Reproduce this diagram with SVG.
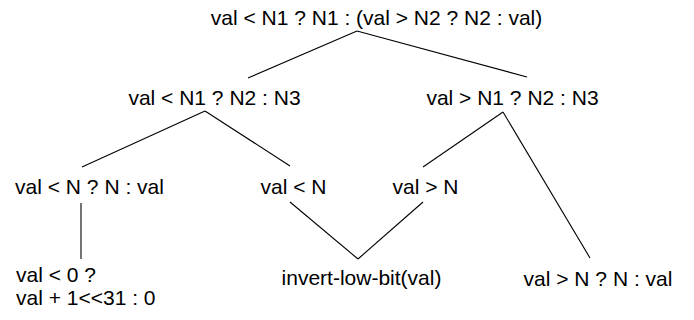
<svg xmlns="http://www.w3.org/2000/svg" width="694" height="320" viewBox="0 0 694 320">
<style>
text{font-family:"Liberation Sans",Arial,sans-serif;font-size:21px;fill:#000}
.m{text-anchor:middle}
.e line{stroke:#000;stroke-width:1.1}
</style>
<rect width="694" height="320" fill="#fff"/>
<g id="connectors" class="e">
<line x1="357" y1="31" x2="248" y2="78"/>
<line x1="357" y1="31" x2="527" y2="77"/>
<line x1="205" y1="111" x2="82" y2="167"/>
<line x1="205" y1="111" x2="290" y2="166"/>
<line x1="503" y1="112" x2="423" y2="167"/>
<line x1="503" y1="112" x2="590" y2="258"/>
<line x1="81" y1="203" x2="81" y2="259"/>
<line x1="290" y1="202" x2="358" y2="259"/>
<line x1="423" y1="202" x2="358" y2="259"/>
</g>
<g id="root"><text class="m" x="376.5" y="25">val &lt; N1 ? N1 : (val &gt; N2 ? N2 : val)</text></g>
<g id="lt"><text class="m" x="214.5" y="105">val &lt; N1 ? N2 : N3</text></g>
<g id="gt"><text class="m" x="512.5" y="105">val &gt; N1 ? N2 : N3</text></g>
<g id="clampLow"><text class="m" x="89.5" y="194">val &lt; N ? N : val</text></g>
<g id="ltN"><text class="m" x="293.5" y="194">val &lt; N</text></g>
<g id="gtN"><text class="m" x="425.5" y="194">val &gt; N</text></g>
<g id="neg"><text x="16" y="282">val &lt; 0 ?</text><text x="16" y="305">val + 1&lt;&lt;31 : 0</text></g>
<g id="invert"><text class="m" x="361.5" y="285">invert-low-bit(val)</text></g>
<g id="clampHigh"><text class="m" x="598" y="286">val &gt; N ? N : val</text></g>
</svg>
